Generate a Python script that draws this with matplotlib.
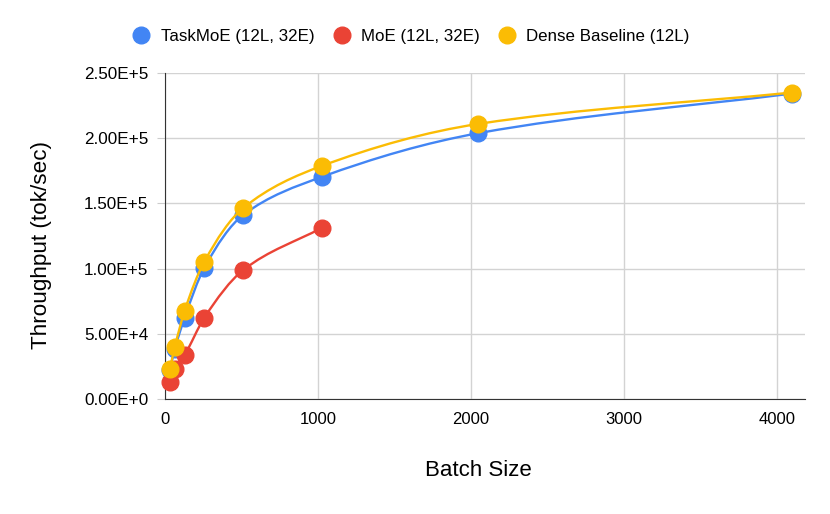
import numpy as np
import matplotlib
matplotlib.use("Agg")
import matplotlib.pyplot as plt
from matplotlib.path import Path
from matplotlib.patches import PathPatch
from matplotlib.lines import Line2D

plt.rcParams['font.family'] = ['Liberation Sans', 'DejaVu Sans']

batch = [32, 64, 128, 256, 512, 1024, 2048, 4096]
batch_moe = [32, 64, 128, 256, 512, 1024]
taskmoe = [22500, 38500, 62300, 100500, 141200, 170200, 203700, 234000]
moe = [13200, 23200, 33900, 62300, 99000, 131200]
dense = [23200, 40000, 67600, 105100, 146500, 178600, 210800, 234800]

series = [
    ("TaskMoE (12L, 32E)", batch, taskmoe, "#4285F4"),
    ("MoE (12L, 32E)", batch_moe, moe, "#EA4335"),
    ("Dense Baseline (12L)", batch, dense, "#FBBC04"),
]


def smooth_path(x, y):
    # monotone cubic (Fritsch-Carlson) drawn as bezier segments
    x = np.asarray(x, float)
    y = np.asarray(y, float)
    h = np.diff(x)
    d = np.diff(y) / h
    m = np.zeros_like(y)
    m[0], m[-1] = d[0], d[-1]
    for i in range(1, len(x) - 1):
        if d[i - 1] * d[i] <= 0:
            m[i] = 0
        else:
            w1 = 2 * h[i] + h[i - 1]
            w2 = h[i] + 2 * h[i - 1]
            m[i] = (w1 + w2) / (w1 / d[i - 1] + w2 / d[i])
    verts = [(x[0], y[0])]
    codes = [Path.MOVETO]
    for i in range(len(x) - 1):
        verts += [(x[i] + h[i] / 3, y[i] + m[i] * h[i] / 3),
                  (x[i + 1] - h[i] / 3, y[i + 1] - m[i + 1] * h[i] / 3),
                  (x[i + 1], y[i + 1])]
        codes += [Path.CURVE4] * 3
    return Path(verts, codes)


fig = plt.figure(figsize=(8.3, 5.14), dpi=100)
ax = fig.add_axes([165 / 830, 1 - 399.3 / 514, 640 / 830, 326.6 / 514])

handles = []
for z, (name, xs, ys, col) in enumerate(series):
    ax.add_patch(PathPatch(smooth_path(xs, ys), fill=False, edgecolor=col,
                           lw=1.7, zorder=3 + z * 2))
    ax.plot(xs, ys, "o", color=col, markersize=12, zorder=4 + z * 2,
            clip_on=False)
    handles.append(Line2D([], [], marker="o", ls="none", color=col,
                          markersize=12, label=name))

ax.set_xlim(0, 4183)
ax.set_ylim(0, 250000)
ax.set_xticks([0, 1000, 2000, 3000, 4000])
ax.set_yticks([0, 50000, 100000, 150000, 200000, 250000])
ax.set_yticklabels(["0.00E+0", "5.00E+4", "1.00E+5", "1.50E+5", "2.00E+5", "2.50E+5"])
ax.grid(True, color="#d3d3d3", lw=1)
ax.set_axisbelow(True)
for s in ["top", "right"]:
    ax.spines[s].set_visible(False)
ax.spines["left"].set_color("#333333")
ax.spines["bottom"].set_color("#333333")
ax.tick_params(axis="y", length=6, color="#cccccc", labelsize=12.3, pad=6)
ax.tick_params(axis="x", length=0, labelsize=12, pad=9)

ax.set_xlabel("Batch Size", fontsize=16)
ax.xaxis.set_label_coords(0.49, -0.187)
ax.set_ylabel("Throughput (tok/sec)", fontsize=16.2)
ax.yaxis.set_label_coords(-0.177, 0.472)

fig.legend(handles=handles, loc="center left", bbox_to_anchor=(116 / 830, 1 - 36 / 514),
           ncol=3, frameon=False, fontsize=12.2, handletextpad=0.55,
           columnspacing=1.0, handlelength=1.2)

fig.savefig("out.png", dpi=100)
